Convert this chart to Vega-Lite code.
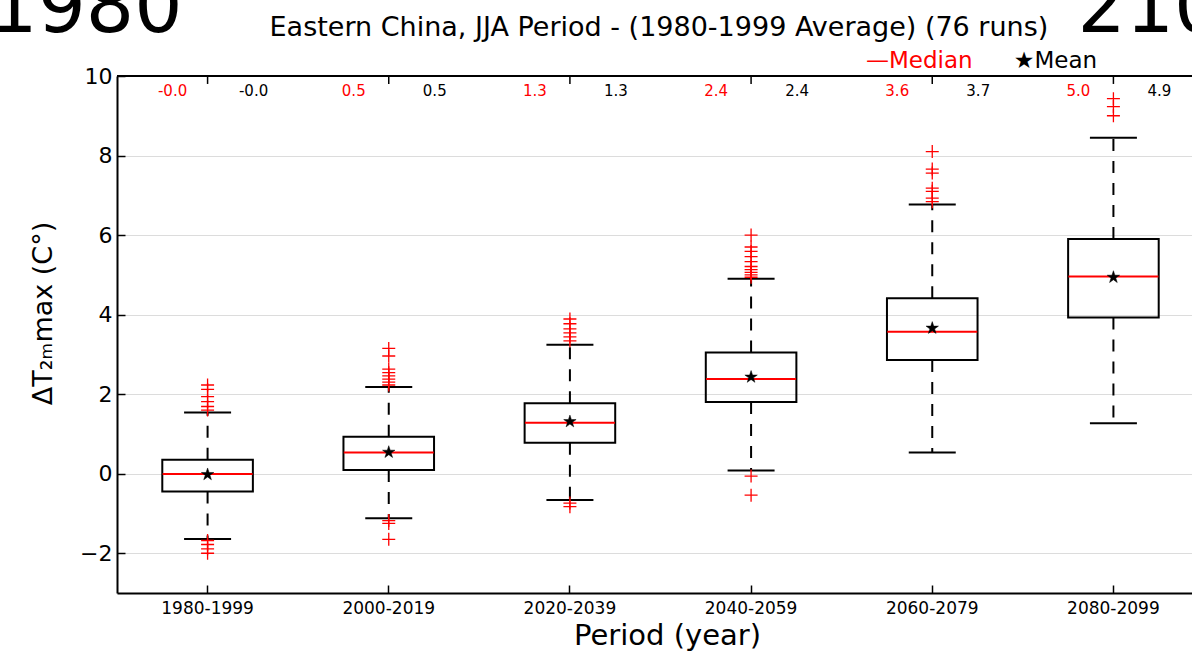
{
  "$schema": "https://vega.github.io/schema/vega-lite/v6.json",
  "autosize": {"type": "none"},
  "padding": {"left": 117, "top": 76, "right": 0, "bottom": 59},
  "width": 1075,
  "height": 517,
  "config": {
    "font": "DejaVu Sans",
    "view": {"stroke": null},
    "axis": {"labelColor": "black", "titleColor": "black", "titleFontWeight": "normal"}
  },
  "datasets": {
    "boxes": [
      {"period": "1980-1999", "wlo": -1.64, "q1": -0.45, "median": -0.01, "mean": -0.02, "q3": 0.35, "whi": 1.54, "median_text": "-0.0", "mean_text": "-0.0"},
      {"period": "2000-2019", "wlo": -1.12, "q1": 0.09, "median": 0.53, "mean": 0.54, "q3": 0.93, "whi": 2.18, "median_text": "0.5", "mean_text": "0.5"},
      {"period": "2020-2039", "wlo": -0.66, "q1": 0.78, "median": 1.28, "mean": 1.31, "q3": 1.77, "whi": 3.24, "median_text": "1.3", "mean_text": "1.3"},
      {"period": "2040-2059", "wlo": 0.08, "q1": 1.80, "median": 2.38, "mean": 2.43, "q3": 3.05, "whi": 4.90, "median_text": "2.4", "mean_text": "2.4"},
      {"period": "2060-2079", "wlo": 0.53, "q1": 2.86, "median": 3.57, "mean": 3.66, "q3": 4.41, "whi": 6.77, "median_text": "3.6", "mean_text": "3.7"},
      {"period": "2080-2099", "wlo": 1.27, "q1": 3.93, "median": 4.96, "mean": 4.94, "q3": 5.90, "whi": 8.45, "median_text": "5.0", "mean_text": "4.9"}
    ],
    "outliers": [
      {"period": "1980-1999", "value": 2.23}, {"period": "1980-1999", "value": 2.12}, {"period": "1980-1999", "value": 1.94},
      {"period": "1980-1999", "value": 1.81}, {"period": "1980-1999", "value": 1.69}, {"period": "1980-1999", "value": 1.60},
      {"period": "1980-1999", "value": -1.68}, {"period": "1980-1999", "value": -1.78}, {"period": "1980-1999", "value": -1.89},
      {"period": "1980-1999", "value": -2.0},
      {"period": "2000-2019", "value": 3.15}, {"period": "2000-2019", "value": 2.96}, {"period": "2000-2019", "value": 2.63},
      {"period": "2000-2019", "value": 2.54}, {"period": "2000-2019", "value": 2.46}, {"period": "2000-2019", "value": 2.38},
      {"period": "2000-2019", "value": 2.30}, {"period": "2000-2019", "value": 2.23},
      {"period": "2000-2019", "value": -1.18}, {"period": "2000-2019", "value": -1.25}, {"period": "2000-2019", "value": -1.65},
      {"period": "2020-2039", "value": 3.89}, {"period": "2020-2039", "value": 3.77}, {"period": "2020-2039", "value": 3.64},
      {"period": "2020-2039", "value": 3.54}, {"period": "2020-2039", "value": 3.44}, {"period": "2020-2039", "value": 3.34},
      {"period": "2020-2039", "value": -0.74}, {"period": "2020-2039", "value": -0.83},
      {"period": "2040-2059", "value": 6.0}, {"period": "2040-2059", "value": 5.70}, {"period": "2040-2059", "value": 5.59},
      {"period": "2040-2059", "value": 5.46}, {"period": "2040-2059", "value": 5.33}, {"period": "2040-2059", "value": 5.21},
      {"period": "2040-2059", "value": 5.13}, {"period": "2040-2059", "value": 5.06}, {"period": "2040-2059", "value": 5.0},
      {"period": "2040-2059", "value": 4.94},
      {"period": "2040-2059", "value": -0.06}, {"period": "2040-2059", "value": -0.54},
      {"period": "2060-2079", "value": 8.10}, {"period": "2060-2079", "value": 7.66}, {"period": "2060-2079", "value": 7.56},
      {"period": "2060-2079", "value": 7.18}, {"period": "2060-2079", "value": 7.10}, {"period": "2060-2079", "value": 6.93},
      {"period": "2060-2079", "value": 6.84},
      {"period": "2080-2099", "value": 9.43}, {"period": "2080-2099", "value": 9.23}, {"period": "2080-2099", "value": 9.0}
    ]
  },
  "layer": [
    {
      "data": {"name": "boxes"},
      "mark": {"type": "rule", "color": "black", "strokeWidth": 2, "strokeDash": [12, 10]},
      "encoding": {
        "x": {"field": "period", "type": "nominal", "scale": {"range": [0, 1087], "paddingInner": 0, "paddingOuter": 0},
          "axis": {"orient": "bottom", "title": "Period (year)", "titleFontSize": 29, "titlePadding": 5, "titleX": 550,
            "labelAngle": 0, "labelFontSize": 17, "labelPadding": 15, "tickSize": -8, "tickColor": "black", "tickWidth": 1.5,
            "domain": true, "domainColor": "black", "domainWidth": 2, "grid": false}},
        "y": {"field": "q3", "type": "quantitative", "scale": {"domain": [-3, 10], "nice": false, "zero": false},
          "axis": {"values": [-2, 0, 2, 4, 6, 8, 10], "grid": true, "gridColor": "#dcdcdc", "gridWidth": 1.2,
            "tickSize": -8, "tickColor": "black", "tickWidth": 1.5, "domain": true, "domainColor": "black", "domainWidth": 2,
            "labelFontSize": 22, "labelPadding": 13,
            "title": "ΔT₂ₘmax (C°)", "titleFontSize": 27, "titleX": -60, "titleY": 237}},
        "y2": {"field": "whi"}
      }
    },
    {
      "data": {"name": "boxes"},
      "mark": {"type": "rule", "color": "black", "strokeWidth": 2, "strokeDash": [12, 10]},
      "encoding": {
        "x": {"field": "period", "type": "nominal"},
        "y": {"field": "q1", "type": "quantitative"},
        "y2": {"field": "wlo"}
      }
    },
    {
      "data": {"name": "boxes"},
      "mark": {"type": "tick", "orient": "horizontal", "color": "black", "size": 47, "thickness": 2, "opacity": 1},
      "encoding": {
        "x": {"field": "period", "type": "nominal"},
        "y": {"field": "whi", "type": "quantitative"}
      }
    },
    {
      "data": {"name": "boxes"},
      "mark": {"type": "tick", "orient": "horizontal", "color": "black", "size": 47, "thickness": 2, "opacity": 1},
      "encoding": {
        "x": {"field": "period", "type": "nominal"},
        "y": {"field": "wlo", "type": "quantitative"}
      }
    },
    {
      "data": {"name": "boxes"},
      "mark": {"type": "bar", "fill": "transparent", "stroke": "black", "strokeWidth": 2, "width": {"band": 0.5}},
      "encoding": {
        "x": {"field": "period", "type": "nominal"},
        "y": {"field": "q1", "type": "quantitative"},
        "y2": {"field": "q3"}
      }
    },
    {
      "data": {"name": "boxes"},
      "mark": {"type": "tick", "orient": "horizontal", "color": "#ff0000", "size": 90, "thickness": 2, "opacity": 1},
      "encoding": {
        "x": {"field": "period", "type": "nominal"},
        "y": {"field": "median", "type": "quantitative"}
      }
    },
    {
      "data": {"name": "outliers"},
      "mark": {"type": "point", "shape": "M-1,0L1,0M0,-1L0,1", "filled": false, "stroke": "#ff0000", "strokeWidth": 1.3, "size": 169, "opacity": 1},
      "encoding": {
        "x": {"field": "period", "type": "nominal"},
        "y": {"field": "value", "type": "quantitative"}
      }
    },
    {
      "data": {"name": "boxes"},
      "mark": {"type": "point", "shape": "M0,-1L0.2245,-0.309L0.951,-0.309L0.363,0.118L0.588,0.809L0,0.382L-0.588,0.809L-0.363,0.118L-0.951,-0.309L-0.2245,-0.309Z", "filled": true, "fill": "black", "stroke": "black", "strokeWidth": 0.5, "size": 170, "opacity": 1},
      "encoding": {
        "x": {"field": "period", "type": "nominal"},
        "y": {"field": "mean", "type": "quantitative"}
      }
    },
    {
      "data": {"name": "boxes"},
      "mark": {"type": "text", "fill": "#ff0000", "fontSize": 15, "dx": -35, "baseline": "alphabetic", "align": "center"},
      "encoding": {
        "x": {"field": "period", "type": "nominal"},
        "y": {"datum": 9.5, "type": "quantitative"},
        "text": {"field": "median_text", "type": "nominal"}
      }
    },
    {
      "data": {"name": "boxes"},
      "mark": {"type": "text", "fill": "black", "fontSize": 15, "dx": 46, "baseline": "alphabetic", "align": "center"},
      "encoding": {
        "x": {"field": "period", "type": "nominal"},
        "y": {"datum": 9.5, "type": "quantitative"},
        "text": {"field": "mean_text", "type": "nominal"}
      }
    },
    {
      "data": {"name": "boxes"},
      "mark": {"type": "rule", "color": "black", "strokeWidth": 1.5},
      "encoding": {
        "x": {"field": "period", "type": "nominal"},
        "y": {"datum": 10, "type": "quantitative"},
        "y2": {"datum": 9.8}
      }
    },
    {
      "data": {"values": [{}]},
      "mark": {"type": "rule", "color": "black", "strokeWidth": 2},
      "encoding": {
        "y": {"datum": 10, "type": "quantitative"}
      }
    },
    {
      "data": {"values": [{}]},
      "mark": {"type": "text", "fill": "#ff0000", "fontSize": 23, "dx": -13, "baseline": "alphabetic", "align": "center", "text": "—Median"},
      "encoding": {
        "x": {"datum": "2060-2079", "type": "nominal"},
        "y": {"datum": 10.2, "type": "quantitative"}
      }
    },
    {
      "data": {"values": [{}]},
      "mark": {"type": "text", "fill": "black", "fontSize": 23, "dx": -58, "baseline": "alphabetic", "align": "center", "text": "★Mean"},
      "encoding": {
        "x": {"datum": "2080-2099", "type": "nominal"},
        "y": {"datum": 10.2, "type": "quantitative"}
      }
    },
    {
      "data": {"values": [{}]},
      "mark": {"type": "text", "fill": "black", "fontSize": 76, "dx": -25, "baseline": "alphabetic", "align": "right", "text": "1980"},
      "encoding": {
        "x": {"datum": "1980-1999", "type": "nominal"},
        "y": {"datum": 11.11, "type": "quantitative"}
      }
    },
    {
      "data": {"values": [{}]},
      "mark": {"type": "text", "fill": "black", "fontSize": 76, "dx": -36, "baseline": "alphabetic", "align": "left", "text": "2100"},
      "encoding": {
        "x": {"datum": "2080-2099", "type": "nominal"},
        "y": {"datum": 11.11, "type": "quantitative"}
      }
    },
    {
      "data": {"values": [{}]},
      "mark": {"type": "text", "fill": "black", "fontSize": 27, "dx": 89, "baseline": "alphabetic", "align": "center", "text": "Eastern China, JJA Period - (1980-1999 Average) (76 runs)"},
      "encoding": {
        "x": {"datum": "2020-2039", "type": "nominal"},
        "y": {"datum": 11.01, "type": "quantitative"}
      }
    }
  ]
}
